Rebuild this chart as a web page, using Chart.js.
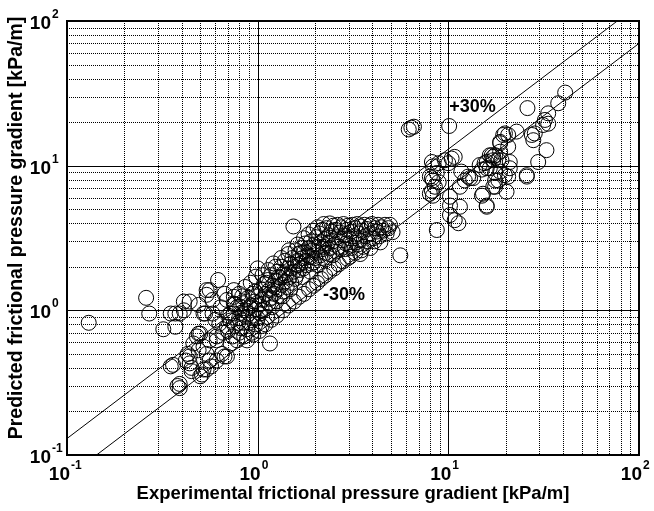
<!DOCTYPE html>
<html>
<head>
<meta charset="utf-8">
<script src="https://cdn.jsdelivr.net/npm/chart.js@4/dist/chart.umd.min.js"></script>
<style>
  html, body { margin: 0; padding: 0; background: #fff; }
</style>
</head>
<body>
<canvas id="chart" width="654" height="511"></canvas>
<script>
const lowGroup = [
  [0.13,0.82],[0.26,1.22],[0.27,0.95],[0.32,0.74],[0.35,0.95],[0.37,0.95],[0.39,0.95],[0.37,0.77],
  [0.41,1.15],[0.44,1.15],[0.49,1.09],[0.54,1.38],[0.35,0.41],[0.38,0.30],[0.39,0.31],[0.48,0.66],
  [0.44,0.48],[0.42,0.45],[0.45,0.40],[0.52,0.56],[0.49,0.53],[0.54,0.39],[0.50,0.35],[0.36,0.42],
  [0.39,0.29],[0.44,0.43],[0.45,0.38],[0.43,0.50],[0.49,0.69],[0.51,0.36],[0.56,0.45],[0.57,0.41],
  [0.53,0.95],[0.60,0.86],[0.63,0.81],[0.61,0.62],[0.65,0.50],[0.69,0.48],[0.72,0.59],[0.72,0.95],
  [0.41,1.00],[0.56,1.38],[0.62,1.62],[0.54,1.28],[0.75,1.38],[0.75,1.24],[0.58,1.18],[0.50,0.69],
  [0.46,0.59],[0.56,0.62],[0.54,0.50],[0.61,0.45],[0.52,0.39],[0.61,0.66],[0.69,0.77],[0.67,0.48],
  [0.75,1.11],[0.81,1.06],[0.69,1.18],[0.52,0.95]
];
const bandGroup = [
  [0.70,0.72],[0.72,0.85],[0.74,0.66],[0.75,0.95],[0.76,0.78],[0.78,0.62],[0.78,1.05],[0.80,0.88],
  [0.80,0.70],[0.82,0.96],[0.82,0.75],[0.84,1.12],[0.84,0.82],[0.85,0.66],[0.86,1.00],[0.87,0.90],
  [0.88,0.74],[0.89,1.22],[0.90,0.95],[0.91,0.82],[0.92,1.08],[0.93,0.70],[0.94,1.30],[0.95,0.92],
  [0.96,1.15],[0.97,0.80],[0.98,1.02],[0.98,1.71],[1.00,1.95],[1.00,0.88],[1.01,1.25],[1.02,1.10],
  [1.03,0.95],[1.04,1.40],[1.05,0.78],[1.06,1.18],[1.08,1.52],[1.09,1.02],[1.10,1.30],[1.12,0.90],
  [1.13,1.62],[1.14,1.12],[1.15,1.38],[1.16,0.59],[1.17,1.22],[1.18,1.75],[1.19,1.05],[1.20,1.48],
  [1.21,2.11],[1.22,1.30],[1.24,1.60],[1.25,1.15],[1.27,1.85],[1.28,1.40],[1.30,1.25],[1.31,1.68],
  [1.33,2.00],[1.34,1.50],[1.36,1.35],[1.37,1.80],[1.39,2.20],[1.40,1.58],[1.42,1.45],[1.44,1.95],
  [1.45,2.45],[1.47,1.70],[1.49,2.10],[1.50,1.55],[1.52,2.30],[1.54,3.80],[1.54,1.85],[1.56,2.00],
  [1.58,2.60],[1.60,1.75],[1.62,2.20],[1.64,2.45],[1.65,1.90],[1.67,2.48],[1.68,2.10],[1.70,2.70],
  [1.72,2.30],[1.74,1.95],[1.76,2.55],[1.78,2.90],[1.80,2.20],[1.83,2.40],[1.85,2.70],[1.88,2.35],
  [1.90,3.00],[1.92,2.10],[1.95,2.60],[1.98,2.85],[2.00,2.30],[2.03,3.20],[2.05,2.50],[2.08,2.75],
  [2.10,3.40],[2.13,2.40],[2.16,2.95],[2.18,3.60],[2.20,2.65],[2.21,2.75],[2.22,3.95],[2.25,3.10],
  [2.28,2.50],[2.30,3.70],[2.33,2.90],[2.36,3.30],[2.39,3.99],[2.40,2.70],[2.44,3.50],[2.48,3.00],
  [2.50,3.85],[2.53,2.85],[2.56,3.60],[2.60,3.20],[2.63,3.90],[2.66,2.75],[2.70,3.45],[2.74,3.75],
  [2.78,3.05],[2.82,3.95],[2.86,3.30],[2.90,2.90],[2.94,3.60],[2.98,3.85],[3.02,3.15],[3.06,2.80],
  [3.10,3.50],[3.15,3.90],[3.20,3.25],[3.24,3.70],[3.28,2.95],[3.33,3.95],[3.38,3.40],[3.43,3.05],
  [3.48,3.80],[3.52,3.55],[3.58,2.75],[3.63,3.90],[3.68,3.25],[3.74,3.65],[3.80,3.00],[3.86,3.85],
  [3.92,3.40],[3.98,3.95],[4.05,3.15],[4.12,3.70],[4.20,3.50],[4.28,3.90],[4.35,3.25],[4.45,3.75],
  [4.55,3.55],[4.65,3.90],[4.75,3.40],[4.85,3.70],[4.94,3.90],[5.10,3.47],[4.40,2.95],[3.90,2.70],
  [3.50,2.60],[4.10,3.00],[5.60,2.40]
];
// lower (-30%) side and upper side of the dense band
const bandEdges = [
  [0.88,0.62],[0.95,0.68],[1.02,0.72],[1.10,0.80],[1.18,0.86],[1.26,0.92],[1.36,1.00],[1.45,1.08],
  [1.55,1.15],[1.65,1.24],[1.75,1.30],[1.86,1.40],[1.96,1.48],[2.05,1.55],[2.15,1.65],[2.26,1.74],
  [2.38,1.85],[2.52,1.95],[2.66,2.08],[2.80,2.18],[2.95,2.28],[3.05,2.35],[3.25,2.50],[3.45,2.45],
  [0.66,0.70],[0.70,0.92],[0.76,1.10],[0.79,0.82],[0.83,1.25],[0.91,1.05],[0.97,1.35],[1.05,1.00],
  [1.11,1.55],[1.16,1.20],[1.23,1.45],[1.29,1.70],[1.35,1.25],[1.41,1.75],[1.48,1.40],[1.57,1.65],
  [1.63,2.05],[1.72,1.70],[1.81,2.05],[1.89,1.85],[1.97,2.15],[2.07,2.05],[2.17,2.30],[2.27,2.25],
  [2.37,2.45],[2.47,2.40],[2.58,2.55],[2.72,2.65],[2.88,2.65],[3.12,2.70],[3.35,2.85],
  [0.58,0.95],[0.64,1.05],[0.67,1.30],[0.80,1.30],[0.86,1.45],[0.92,1.55],[1.06,1.75],[1.14,1.90],
  [1.24,2.00],[1.33,2.30],[1.46,2.60],[1.62,2.85],[1.75,3.15],[1.85,3.35],[1.96,3.55],[2.06,3.75]
];
const highGroup = [
  [6.2,17.8],[6.4,18.3],[6.6,18.6],[10.1,18.8],[26.0,25.0],[41.0,32.0],[37.7,27.0],[33.4,23.0],
  [32.1,20.7],[31.4,19.1],[33.4,19.5],[28.4,16.7],[27.9,15.0],[32.7,12.8],[29.6,10.6],[25.8,8.4],
  [22.8,17.2],[19.4,16.3],[19.8,16.7],[20.6,16.3],[18.7,14.6],[20.6,13.5],[18.7,12.5],[16.5,11.8],
  [17.2,11.5],[17.6,11.8],[15.9,10.6],[15.9,9.6],[17.6,8.9],[21.0,10.6],[21.0,9.6],[20.6,8.4],
  [19.8,8.6],[17.6,7.15],[15.2,6.4],[15.9,5.2],[20.2,6.6],[18.3,7.9],[14.6,10.1],[15.0,9.4],
  [13.0,8.2],[12.2,7.9],[11.5,7.15],[11.5,5.2],[10.2,6.1],[10.2,4.56],[11.3,4.0],[8.7,3.59],
  [8.2,10.6],[8.3,9.9],[8.9,10.4],[9.6,10.9],[10.0,10.4],[10.4,11.2],[10.8,11.5],[8.0,8.4],
  [8.3,7.9],[8.5,7.15],[8.0,6.4],[8.7,8.9],[8.9,7.7],[11.7,9.1],[12.7,8.4],[13.5,8.2],
  [10.2,5.3],[10.8,4.2],[15.0,6.2],[15.9,5.3],[19.0,10.9],[18.7,14.3],[16.9,11.8],[17.2,10.9],
  [15.5,10.4],[16.5,9.6],[18.3,10.9],[18.7,9.1],[17.6,7.9],[17.2,7.15],[25.8,8.6],[27.4,16.3],
  [8.2,6.7],[8.3,6.2],[8.2,8.2]
];

// +/-30% bounds
const boundRatios = [1.3, 0.7];
const boundLabels = ['+30%', '-30%'];
const boundLabelX = [10.1, 2.2];
const boundLabelY = [25.4, 1.28];
const lineEnds = [0.1, 100];

// axis ticks
const decades = [0.1, 1, 10, 100];
const decadeExp = ['-1', '0', '1', '2'];
const mantissas = [2, 3, 4, 5, 6, 7, 8, 9];

const xTitle = 'Experimental frictional pressure gradient [kPa/m]';
const yTitle = 'Predicted frictional pressure gradient [kPa/m]';

const FONT = '"Liberation Sans", Arial, Helvetica, sans-serif';

const minorTicks = [];
decades.slice(0, 3).forEach(d => mantissas.forEach(m => minorTicks.push(+(d * m).toPrecision(3))));
const allTicks = decades.concat(minorTicks).sort((a, b) => a - b);

const points = lowGroup.concat(bandGroup, bandEdges, highGroup).map(([x, y]) => ({x, y}));

const boundSets = boundRatios.map(r => ({
  data: lineEnds.map(v => ({x: v, y: v * r})),
  showLine: true,
  borderColor: '#000',
  borderWidth: 1,
  pointRadius: 0,
  fill: false
}));

function strokeLine(ctx, x1, y1, x2, y2) {
  ctx.beginPath();
  ctx.moveTo(x1, y1);
  ctx.lineTo(x2, y2);
  ctx.stroke();
}

const frame = {
  id: 'frame',
  beforeDatasetsDraw(chart) {
    const {ctx, chartArea: a, scales: {x, y}} = chart;
    ctx.save();
    ctx.strokeStyle = '#000';
    ctx.lineWidth = 1;
    // dotted minor grid
    ctx.setLineDash([1, 1]);
    minorTicks.forEach(v => {
      const px = Math.round(x.getPixelForValue(v)) + 0.5;
      strokeLine(ctx, px, a.top, px, a.bottom);
      const py = Math.round(y.getPixelForValue(v)) + 0.5;
      strokeLine(ctx, a.left, py, a.right, py);
    });
    // solid decade lines
    ctx.setLineDash([]);
    decades.forEach(v => {
      const px = Math.round(x.getPixelForValue(v)) + 0.5;
      strokeLine(ctx, px, a.top, px, a.bottom);
      const py = Math.round(y.getPixelForValue(v)) + 0.5;
      strokeLine(ctx, a.left, py, a.right, py);
    });
    ctx.restore();
  },
  afterDatasetsDraw(chart) {
    const {ctx, chartArea: a, scales: {x, y}} = chart;
    ctx.save();
    ctx.strokeStyle = '#000';
    ctx.lineWidth = 2;
    ctx.strokeRect(a.left, a.top, a.right - a.left, a.bottom - a.top);

    // bound labels
    ctx.fillStyle = '#000';
    ctx.font = 'bold 18px ' + FONT;
    ctx.textBaseline = 'middle';
    ctx.textAlign = 'left';
    boundLabels.forEach((t, i) => {
      ctx.fillText(t, x.getPixelForValue(boundLabelX[i]), y.getPixelForValue(boundLabelY[i]));
    });

    // tick labels 10^n
    ctx.textBaseline = 'alphabetic';
    decades.forEach((v, i) => {
      const px = x.getPixelForValue(v);
      ctx.font = 'bold 19px ' + FONT;
      ctx.textAlign = 'right';
      ctx.fillText('10', px + 3, 480);
      ctx.font = 'bold 12px ' + FONT;
      ctx.textAlign = 'left';
      ctx.fillText(decadeExp[i], px + 4, 469);

      const py = y.getPixelForValue(v);
      ctx.font = 'bold 19px ' + FONT;
      ctx.textAlign = 'right';
      ctx.fillText('10', 51, py + 8);
      ctx.font = 'bold 12px ' + FONT;
      ctx.textAlign = 'left';
      ctx.fillText(decadeExp[i], 52, py - 3);
    });

    // axis titles
    ctx.font = 'bold 18.5px ' + FONT;
    ctx.textAlign = 'center';
    ctx.fillText(xTitle, (a.left + a.right) / 2, 499);
    ctx.font = 'bold 19.5px ' + FONT;
    ctx.save();
    ctx.translate(22, (a.top + a.bottom) / 2 - 10);
    ctx.rotate(-Math.PI / 2);
    ctx.fillText(yTitle, 0, 0);
    ctx.restore();
    ctx.restore();
  }
};

const logAxis = {
  type: 'logarithmic',
  min: 0.1,
  max: 100,
  ticks: { display: false },
  grid: { display: false },
  border: { display: false },
  afterBuildTicks: s => { s.ticks = allTicks.map(v => ({value: v})); }
};

new Chart(document.getElementById('chart'), {
  type: 'scatter',
  data: {
    datasets: [{
      data: points,
      pointStyle: 'circle',
      pointRadius: 7.5,
      pointBorderWidth: 1,
      pointBorderColor: '#000',
      pointBackgroundColor: 'rgba(0,0,0,0)'
    }].concat(boundSets)
  },
  options: {
    responsive: false,
    animation: false,
    events: [],
    layout: { padding: { top: 21, right: 15, left: 0, bottom: 0 } },
    plugins: { legend: { display: false }, tooltip: { enabled: false } },
    scales: {
      x: Object.assign({}, logAxis, { afterFit: s => { s.height = 56; } }),
      y: Object.assign({}, logAxis, { afterFit: s => { s.width = 67; } })
    }
  },
  plugins: [frame]
});
</script>
</body>
</html>
